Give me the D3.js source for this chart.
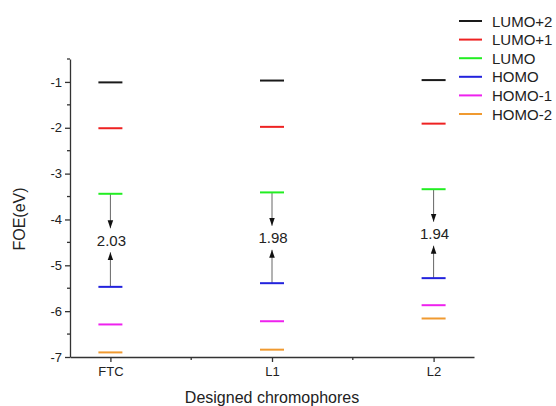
<!DOCTYPE html>
<html lang="en">
<head>
    <meta charset="UTF-8">
    <title>Frontier orbital energies of designed chromophores</title>
    <script src="https://d3js.org/d3.v7.min.js"></script>
    <style>
        body { margin: 0; background: #fff; }
        svg { display: block; font-family: Arial, "Liberation Sans", sans-serif; }
        .axis path, .axis line { stroke: #333; stroke-width: 1.3; }
        .axis text { fill: #222; font-size: 13px; }
    </style>
</head>
<body>
<svg width="556" height="406"></svg>
<script>
    // chromophores and orbital energies (eV)
    const categories = ["FTC", "L1", "L2"];
    const levels = ["LUMO+2", "LUMO+1", "LUMO", "HOMO", "HOMO-1", "HOMO-2"];
    const levelColors = ["#1a1a1a", "#ee2222", "#22ee22", "#2222dd", "#ee22ee", "#f09a30"];

    const lumo2 = [-1.01, -0.97, -0.96];
    const lumo1 = [-2.01, -1.98, -1.91];
    const lumo  = [-3.44, -3.41, -3.34];
    const homo  = [-5.47, -5.39, -5.28];
    const homo1 = [-6.29, -6.22, -5.87];
    const homo2 = [-6.90, -6.84, -6.16];
    const gapLabels = ["2.03", "1.98", "1.94"];

    const yTicks = [-1, -2, -3, -4, -5, -6, -7];
    const yMinorTicks = [-0.5, -1.5, -2.5, -3.5, -4.5, -5.5, -6.5];

    const series = [lumo2, lumo1, lumo, homo, homo1, homo2];

    const svg = d3.select("svg");

    // plot area
    const plotLeft = 70, plotRight = 474, plotTop = 59, plotBottom = 357;

    const x = d3.scalePoint()
        .domain(categories)
        .range([plotLeft, plotRight])
        .padding(0.25);

    const y = d3.scaleLinear()
        .domain([-7, -0.5])
        .range([plotBottom, plotTop]);

    // y axis with major + minor ticks (plain hyphen for the minus sign)
    const yAxis = svg.append("g")
        .attr("class", "axis")
        .attr("transform", `translate(${plotLeft},0)`)
        .call(d3.axisLeft(y).tickValues(yTicks).tickSize(5).tickSizeOuter(0).tickFormat(d => String(d)));
    yAxis.selectAll(".tick text").attr("x", -8);
    yAxis.selectAll(".minor")
        .data(yMinorTicks)
        .enter().append("line")
        .attr("class", "minor")
        .attr("x1", -3).attr("x2", 0)
        .attr("y1", d => y(d)).attr("y2", d => y(d));

    // x axis
    const xAxis = svg.append("g")
        .attr("class", "axis")
        .attr("transform", `translate(0,${plotBottom})`)
        .call(d3.axisBottom(x).tickSize(5).tickSizeOuter(0));
    xAxis.selectAll(".tick text").attr("y", 10);
    const step = x.step();
    xAxis.selectAll(".minor")
        .data(categories.slice(1))
        .enter().append("line")
        .attr("class", "minor")
        .attr("x1", d => x(d) - step / 2).attr("x2", d => x(d) - step / 2)
        .attr("y1", 0).attr("y2", 3);

    // axis titles
    svg.append("text")
        .attr("x", (plotLeft + plotRight) / 2)
        .attr("y", 403)
        .attr("text-anchor", "middle")
        .attr("font-size", 16)
        .attr("fill", "#222")
        .text("Designed chromophores");

    svg.append("text")
        .attr("transform", `translate(25,219) rotate(-90)`)
        .attr("text-anchor", "middle")
        .attr("font-size", 16)
        .attr("fill", "#222")
        .text("FOE(eV)");

    // arrow marker
    svg.append("defs").append("marker")
        .attr("id", "arrow")
        .attr("viewBox", "0 0 8 8")
        .attr("refX", 8).attr("refY", 4)
        .attr("markerWidth", 8).attr("markerHeight", 8)
        .attr("markerUnits", "userSpaceOnUse")
        .attr("orient", "auto")
        .append("path")
        .attr("d", "M0,1.2 L8,4 L0,6.8 Z")
        .attr("fill", "#111");

    // gap arrows and labels
    const gapG = svg.append("g");
    categories.forEach((c, i) => {
        const yl = y(lumo[i]), yh = y(homo[i]);
        const mid = (yl + yh) / 2;
        gapG.append("line")
            .attr("x1", x(c)).attr("x2", x(c))
            .attr("y1", yl).attr("y2", mid - 12)
            .attr("stroke", "#666").attr("stroke-width", 1)
            .attr("marker-end", "url(#arrow)");
        gapG.append("line")
            .attr("x1", x(c)).attr("x2", x(c))
            .attr("y1", yh).attr("y2", mid + 12)
            .attr("stroke", "#666").attr("stroke-width", 1)
            .attr("marker-end", "url(#arrow)");
        gapG.append("text")
            .attr("x", x(c) + 1)
            .attr("y", mid + 5.5)
            .attr("text-anchor", "middle")
            .attr("font-size", 15)
            .attr("fill", "#222")
            .text(gapLabels[i]);
    });

    // energy level bars
    const halfW = 12;
    series.forEach((vals, s) => {
        svg.append("g").selectAll("line")
            .data(vals)
            .enter().append("line")
            .attr("x1", (d, i) => x(categories[i]) - halfW)
            .attr("x2", (d, i) => x(categories[i]) + halfW)
            .attr("y1", d => y(d)).attr("y2", d => y(d))
            .attr("stroke", levelColors[s])
            .attr("stroke-width", 2);
    });

    // legend
    const legend = svg.append("g").attr("transform", "translate(459,21)");
    levels.forEach((name, i) => {
        const row = legend.append("g").attr("transform", `translate(0,${i * 18.6})`);
        row.append("line")
            .attr("x1", 0).attr("x2", 23)
            .attr("stroke", levelColors[i]).attr("stroke-width", 2);
        row.append("text")
            .attr("x", 33).attr("y", 5.5)
            .attr("font-size", 15)
            .attr("fill", "#222")
            .text(name);
    });
</script>
</body>
</html>
